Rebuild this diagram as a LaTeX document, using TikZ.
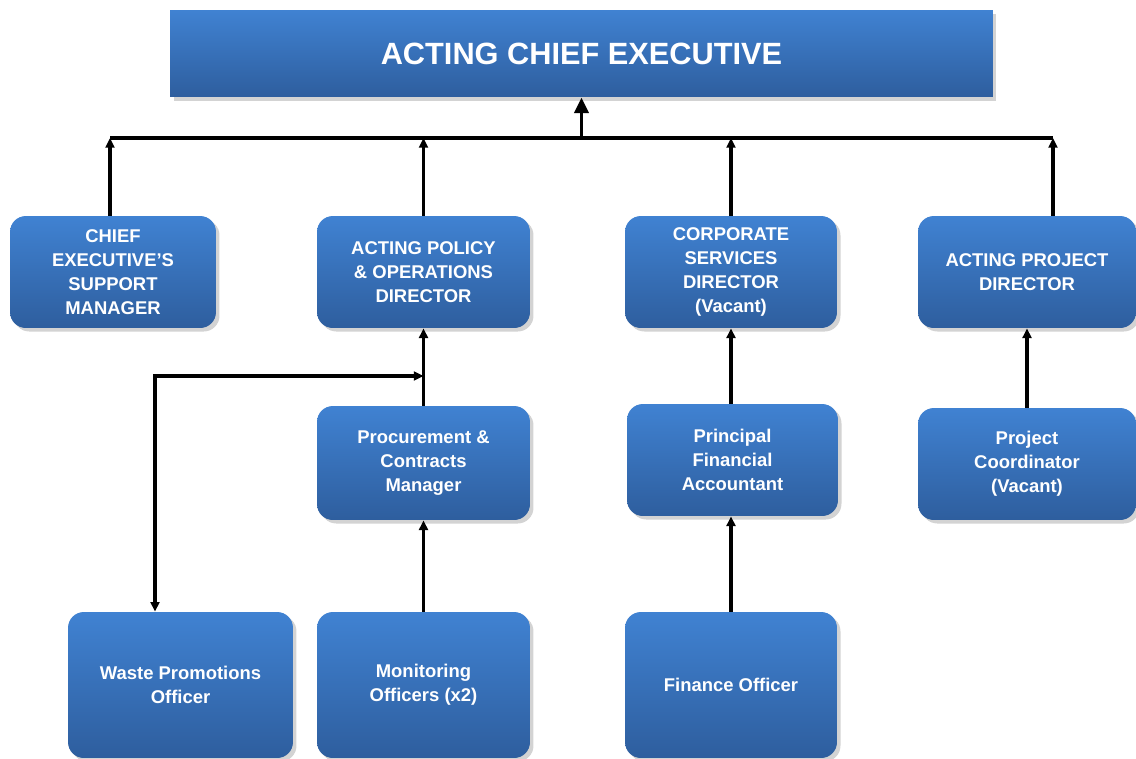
\documentclass[tikz,border=0pt]{standalone}
\usepackage{fontspec}
\setmainfont{Liberation Sans}
\usepackage{tikz}
\usetikzlibrary{arrows.meta,shadows}

\definecolor{boxtop}{RGB}{64,130,210}
\definecolor{boxbot}{RGB}{46,94,158}

\tikzset{
	orgbox/.style={rounded corners=9pt, top color=boxtop, bottom color=boxbot,
		draw=none, text=white, align=center, inner sep=2pt,
		font=\bfseries\fontsize{10.5}{13.6}\selectfont,
		drop shadow={shadow xshift=2pt, shadow yshift=-2pt, opacity=0.35}},
	headbox/.style={orgbox, rounded corners=0pt, font=\bfseries\fontsize{17.5}{21}\selectfont},
	arr/.style={line width=1.9pt, -{Triangle[length=5.5pt,width=5pt]}},
	bigarr/.style={line width=2.2pt, -{Triangle[length=9pt,width=8pt]}}
}

\begin{document}
\begin{tikzpicture}[x=0.02cm, y=-0.02cm]
				\useasboundingbox (0,0) rectangle (1136,758);
				
				% Top
				\node[headbox, minimum width=16.46cm, minimum height=1.74cm] (ace) at (581.5,53.5) {ACTING CHIEF EXECUTIVE};
				
				% Directors
				\node[orgbox, minimum width=4.12cm, minimum height=2.24cm] (cesm) at (113,272) {CHIEF\\EXECUTIVE’S\\SUPPORT\\MANAGER};
				\node[orgbox, minimum width=4.26cm, minimum height=2.24cm] (apod) at (423.5,272) {ACTING POLICY\\\& OPERATIONS\\DIRECTOR};
				\node[orgbox, minimum width=4.24cm, minimum height=2.24cm] (csd) at (731,272) {CORPORATE\\SERVICES\\DIRECTOR\\(Vacant)};
				\node[orgbox, minimum width=4.36cm, minimum height=2.24cm] (apd) at (1027,272) {ACTING PROJECT\\DIRECTOR};
				
				% Managers
				\node[orgbox, minimum width=4.26cm, minimum height=2.28cm] (pcm) at (423.5,463) {Procurement \&\\Contracts\\Manager};
				\node[orgbox, minimum width=4.22cm, minimum height=2.24cm] (pfa) at (732.5,460) {Principal\\Financial\\Accountant};
				\node[orgbox, minimum width=4.36cm, minimum height=2.24cm] (pc) at (1027,464) {Project\\Coordinator\\(Vacant)};
				
				% Officers
				\node[orgbox, minimum width=4.5cm, minimum height=2.92cm] (wpo) at (180.5,685) {Waste Promotions\\Officer};
				\node[orgbox, minimum width=4.26cm, minimum height=2.92cm] (mo) at (423.5,685) {Monitoring\\Officers (x2)};
				\node[orgbox, minimum width=4.24cm, minimum height=2.92cm] (fo) at (731,685) {Finance Officer};
				
				% Bus line
				\coordinate (busl) at (110,138);
				\coordinate (busr) at (1053,138);
				\draw[line width=1.9pt] (busl) -- (busr);
				\draw[bigarr] (ace.south |- busl) -- (ace.south);
				
				\draw[arr] (cesm.north -| busl) -- (busl);
				\draw[arr] (apod.north) -- (apod.north |- busl);
				\draw[arr] (csd.north) -- (csd.north |- busl);
				\draw[arr] (apd.north -| busr) -- (busr);
				
				% Lower links
				\draw[arr] (pcm.north) -- (apod.south);
				\draw[arr] (mo.north) -- (pcm.south);
				\draw[arr] (csd.south |- pfa.north) -- (csd.south);
				\draw[arr] (fo.north) -- (fo.north |- pfa.south);
				\draw[arr] (pc.north) -- (apd.south);
				
				% Waste promotions link
				\coordinate (jn) at (423.5,376);
				\coordinate (turn) at (155,376);
				\draw[arr, {Triangle[length=5.5pt,width=5pt]}-{Triangle[length=5.5pt,width=5pt]}] (jn) -- (turn) -- (turn |- wpo.north);
			\end{tikzpicture}
\end{document}
